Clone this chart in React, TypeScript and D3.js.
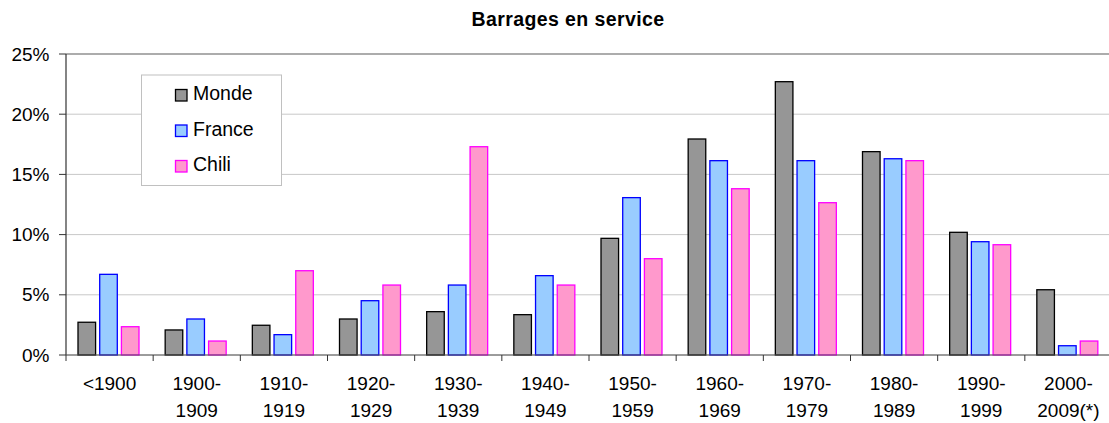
import React from 'react'
import * as d3 from 'd3'

const categories = [
  ['<1900'],
  ['1900-', '1909'],
  ['1910-', '1919'],
  ['1920-', '1929'],
  ['1930-', '1939'],
  ['1940-', '1949'],
  ['1950-', '1959'],
  ['1960-', '1969'],
  ['1970-', '1979'],
  ['1980-', '1989'],
  ['1990-', '1999'],
  ['2000-', '2009(*)'],
]

const monde = [2.72, 2.08, 2.47, 2.99, 3.6, 3.35, 9.69, 17.94, 22.7, 16.89, 10.19, 5.42]
const france = [6.7, 2.99, 1.69, 4.51, 5.81, 6.59, 13.07, 16.14, 16.14, 16.3, 9.41, 0.77]
const chili = [2.35, 1.16, 7.0, 5.81, 17.3, 5.81, 8.0, 13.81, 12.65, 16.14, 9.16, 1.16]

const yTicks = [0, 5, 10, 15, 20, 25]

const seriesDefs = [
  { name: 'Monde', values: monde, fill: '#969696', stroke: '#000000' },
  { name: 'France', values: france, fill: '#99ccff', stroke: '#0000ff' },
  { name: 'Chili', values: chili, fill: '#ff99cc', stroke: '#ff00ff' },
]

const W = 1109
const H = 423
const left = 66
const right = 1112
const top = 54
const bottom = 355
const font = 'Arial, "Liberation Sans", sans-serif'

export default function App() {
  const keys = categories.map((c) => c.join(' '))
  const x0 = d3.scaleBand().domain(keys).range([left, right]).padding(0)
  // bars sit inside each category band
  const x1 = d3
    .scaleBand()
    .domain(seriesDefs.map((s) => s.name))
    .range([12, 73])
    .paddingInner(0.19)
    .paddingOuter(0)
  const y = d3.scaleLinear().domain([0, 25]).range([bottom, top])
  const fmt = (v: number) => `${v}%`

  return (
    <svg
      width={W}
      height={H}
      style={{ position: 'absolute', left: 0, top: 0, background: '#fff' }}
      fontFamily={font}
    >
      <text x={568} y={26} textAnchor="middle" fontSize={19.5} fontWeight="bold" letterSpacing={0.4}>
        Barrages en service
      </text>

      {/* gridlines */}
      {yTicks.map((t) => (
        <line
          key={t}
          x1={left}
          x2={right}
          y1={y(t)}
          y2={y(t)}
          stroke={t === 25 ? '#909090' : '#c8c8c8'}
          strokeWidth={t === 25 ? 1.3 : 1}
        />
      ))}

      {/* bars */}
      {seriesDefs.map((s) => (
        <g key={s.name}>
          {s.values.map((v, i) => (
            <rect
              key={i}
              x={x0(keys[i])! + x1(s.name)!}
              y={y(v)}
              width={x1.bandwidth()}
              height={bottom - y(v)}
              fill={s.fill}
              stroke={s.stroke}
              strokeWidth={1.3}
            />
          ))}
        </g>
      ))}

      {/* y axis */}
      <line x1={left} x2={left} y1={top} y2={bottom} stroke="#333" strokeWidth={1.2} />
      {yTicks.map((t) => (
        <g key={t}>
          <line x1={left - 7} x2={left} y1={y(t)} y2={y(t)} stroke="#333" />
          <text x={49.5} y={y(t)} dy="0.35em" textAnchor="end" fontSize={19}>
            {fmt(t)}
          </text>
        </g>
      ))}

      {/* x axis */}
      <line x1={left} x2={right} y1={bottom} y2={bottom} stroke="#555" strokeWidth={1.2} />
      {keys.map((k) => (
        <line key={k} x1={x0(k)!} x2={x0(k)!} y1={bottom} y2={bottom + 6} stroke="#333" />
      ))}
      {categories.map((c, i) => (
        <text key={i} textAnchor="middle" fontSize={19}>
          {c.map((line, j) => (
            <tspan key={j} x={x0(keys[i])! + x0.bandwidth() / 2} y={389.5 + j * 27.5}>
              {line}
            </tspan>
          ))}
        </text>
      ))}

      {/* legend */}
      <rect x={141.5} y={75} width={140} height={110.5} fill="#fff" stroke="#c0c0c0" />
      {seriesDefs.map((s, i) => (
        <g key={s.name} transform={`translate(0, ${95 + i * 35.5})`}>
          <rect x={175.5} y={-5.5} width={11.5} height={11.5} fill={s.fill} stroke={s.stroke} strokeWidth={1.3} />
          <text x={193} y={-1.5} dy="0.35em" fontSize={19.5}>
            {s.name}
          </text>
        </g>
      ))}
    </svg>
  )
}
